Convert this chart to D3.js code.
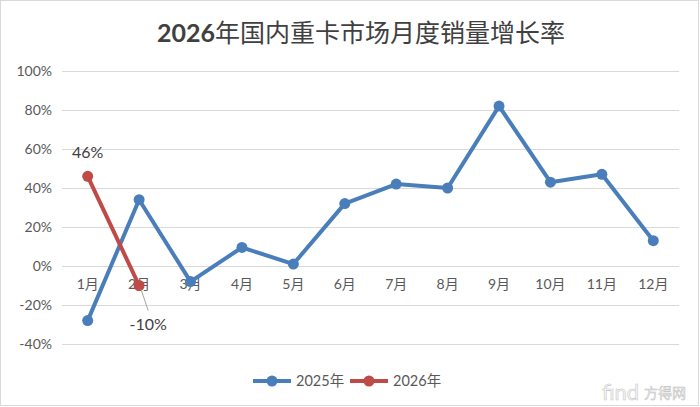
<!DOCTYPE html>
<html><head><meta charset="utf-8">
<script src="https://cdn.jsdelivr.net/npm/d3@7"></script>
<style>body{margin:0;background:#fff}svg{display:block}</style>
</head><body><svg id="c" width="700" height="407"></svg>
<script>
const months = ["1月","2月","3月","4月","5月","6月","7月","8月","9月","10月","11月","12月"];
const s2025 = [-28, 34, -8, 9.5, 1, 32, 42, 40, 82, 43, 47, 13];
const s2026 = [46, -10];
const yTicks = [-40, -20, 0, 20, 40, 60, 80, 100];
const seriesNames = ["2025年", "2026年"];
const colors = ["#4a7ebb", "#be4b48"];
const titleYear = "2026";
const titleRest = "年国内重卡市场月度销量增长率";

const svg = d3.select("#c");
const font = "'Lato','Noto Sans CJK SC',sans-serif";
svg.append("rect").attr("x",0.5).attr("y",0.5).attr("width",698).attr("height",405)
  .attr("fill","#fff").attr("stroke","#d9d9d9");

const x = d3.scaleBand().domain(months).range([62, 679]);
const y = d3.scaleLinear().domain([-40, 100]).range([344, 71]);

// gridlines
svg.append("g").selectAll("line").data(yTicks).join("line")
  .attr("x1",62).attr("x2",679).attr("y1",d=>y(d)+0.5).attr("y2",d=>y(d)+0.5)
  .attr("stroke","#d9d9d9").attr("stroke-width",1);

// y axis labels
const yAxis = d3.axisLeft(y).tickValues(yTicks).tickFormat(d=>d+"%").tickSize(0).tickPadding(0);
const gy = svg.append("g").attr("transform","translate(52,0)").call(yAxis);
gy.select(".domain").remove();
gy.selectAll("text").attr("font-family",font).attr("font-size",14).attr("fill","#595959");

// x axis labels at zero line
const xAxis = d3.axisBottom(x).tickSize(0).tickPadding(13);
const gx = svg.append("g").attr("transform",`translate(0,${y(0)})`).call(xAxis);
gx.select(".domain").remove();
gx.selectAll("text").attr("font-family",font).attr("font-size",14).attr("fill","#595959");

// title
const t = svg.append("text").attr("x",361).attr("y",42).attr("text-anchor","middle")
  .attr("font-family",font).attr("font-size",25).attr("fill","#404040");
t.append("tspan").attr("font-weight","bold").text(titleYear);
t.append("tspan").attr("font-weight","normal").text(titleRest);

const line = d3.line().x((d,i)=>x(months[i])+x.bandwidth()/2).y(d=>y(d));
[s2025, s2026].forEach((s,k)=>{
  svg.append("path").datum(s).attr("d",line).attr("fill","none")
    .attr("stroke",colors[k]).attr("stroke-width",4).attr("stroke-linejoin","round");
  svg.append("g").selectAll("circle").data(s).join("circle")
    .attr("cx",(d,i)=>x(months[i])+x.bandwidth()/2).attr("cy",d=>y(d)).attr("r",5.5)
    .attr("fill",colors[k]);
});

// data labels for 2026
const cx0 = x(months[0])+x.bandwidth()/2, cx1 = x(months[1])+x.bandwidth()/2;
svg.append("text").attr("x",cx0).attr("y",y(s2026[0])-18).attr("text-anchor","middle")
  .attr("font-family",font).attr("font-size",16).attr("fill","#404040").text(s2026[0]+"%");
svg.append("line").attr("x1",cx1+2).attr("y1",y(s2026[1])+4).attr("x2",cx1+9).attr("y2",y(s2026[1])+25)
  .attr("stroke","#a6a6a6").attr("stroke-width",1);
svg.append("text").attr("x",cx1+9).attr("y",y(s2026[1])+44).attr("text-anchor","middle")
  .attr("font-family",font).attr("font-size",16).attr("fill","#404040").text(s2026[1]+"%");

// legend
const lg = svg.append("g");
const lx = [253, 350];
seriesNames.forEach((n,k)=>{
  lg.append("line").attr("x1",lx[k]).attr("x2",lx[k]+38).attr("y1",381).attr("y2",381)
    .attr("stroke",colors[k]).attr("stroke-width",4);
  lg.append("circle").attr("cx",lx[k]+19).attr("cy",381).attr("r",5.5).attr("fill",colors[k]);
  lg.append("text").attr("x",lx[k]+43).attr("y",386).attr("font-family",font).attr("font-size",14.5)
    .attr("fill","#595959").text(n);
});

// watermark
svg.append("text").attr("x",602).attr("y",400).attr("font-family",font).attr("font-size",22)
  .attr("fill","#f7f7f7").attr("stroke","#c8c8c8").attr("stroke-width",0.6).text("find");
svg.append("text").attr("x",644).attr("y",398).attr("font-family",font).attr("font-size",14)
  .attr("fill","#f2f2f2").attr("stroke","#c0c0c0").attr("stroke-width",0.5).text("方得网");
</script></body></html>
